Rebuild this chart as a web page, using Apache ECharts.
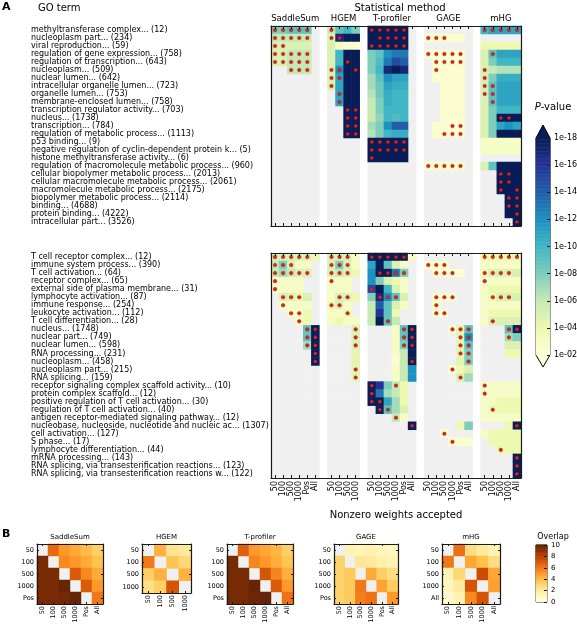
<!DOCTYPE html>
<html><head><meta charset="utf-8">
<script src="https://cdn.jsdelivr.net/npm/echarts@6/dist/echarts.min.js"></script>
<style>html,body{margin:0;padding:0;background:#fff}#c{width:577px;height:626px}</style>
</head><body><div id="c"></div><script>
const _ = null;
// ---------- DATA ----------
const methods = ['SaddleSum','HGEM','T-profiler','GAGE','mHG'];
const methodCols = [
  ['50','100','500','1000','Pos','All'],
  ['50','100','500','1000'],
  ['50','100','500','1000','Pos','All'],
  ['50','100','500','1000','Pos','All'],
  ['50','100','500','1000','All']
];
const termsTop = [
  'methyltransferase complex... (12)','nucleoplasm part... (234)','viral reproduction... (59)',
  'regulation of gene expression... (758)','regulation of transcription... (643)','nucleoplasm... (509)',
  'nuclear lumen... (642)','intracellular organelle lumen... (723)','organelle lumen... (753)',
  'membrane-enclosed lumen... (758)','transcription regulator activity... (703)','nucleus... (1738)',
  'transcription... (784)','regulation of metabolic process... (1113)','p53 binding... (9)',
  'negative regulation of cyclin-dependent protein k... (5)','histone methyltransferase activity... (6)',
  'regulation of macromolecule metabolic process... (960)','cellular biopolymer metabolic process... (2013)',
  'cellular macromolecule metabolic process... (2061)','macromolecule metabolic process... (2175)',
  'biopolymer metabolic process... (2114)','binding... (4688)','protein binding... (4222)','intracellular part... (3526)'
];
const termsBottom = [
  'T cell receptor complex... (12)','immune system process... (390)','T cell activation... (64)',
  'receptor complex... (65)','external side of plasma membrane... (31)','lymphocyte activation... (87)',
  'immune response... (254)','leukocyte activation... (112)','T cell differentiation... (28)',
  'nucleus... (1748)','nuclear part... (749)','nuclear lumen... (598)','RNA processing... (231)',
  'nucleoplasm... (458)','nucleoplasm part... (215)','RNA splicing... (159)',
  'receptor signaling complex scaffold activity... (10)','protein complex scaffold... (12)',
  'positive regulation of T cell activation... (30)','regulation of T cell activation... (40)',
  'antigen receptor-mediated signaling pathway... (12)',
  'nucleobase, nucleoside, nucleotide and nucleic ac... (1307)','cell activation... (127)',
  'S phase... (17)','lymphocyte differentiation... (44)','mRNA processing... (143)',
  'RNA splicing, via transesterification reactions... (123)',
  'RNA splicing, via transesterification reactions w... (122)'
];
// values: -log10(P); empty row / null = not reported (grey)
const saddleTop = [[8,8,9,9,9],[6,6,6,6,6],[5,5,5,5,5],[5,5,6,6,6],[5,5,6,6,6],[_,_,6,6,6]];
const hgemTop = [[6,9,10,8],[5,17,18,18],[5,3,2.5,2.5],[5,10,18,18],[5,10,18,18],[5,12,18,18],[5,11,18,18],
  [5,11,18,18],[_,11,18,18],[_,11,18,18],[_,_,18,18],[_,_,18,18],[_,_,18,18],[_,_,18,18]];
const tprofTop = [[18,18,18,18,18],[18,18,18,18,18],[18,18,18,18,18],[8,9,12,13,13],[8,9.5,13,15,14],
  [8,10,17,18,17],[7,9,12,11,11],[7,8.5,11,10.5,10.5],[6.5,8.5,10.5,10,10],[6,8,10.5,10,10],[6,8,10,10,10],
  [6,7.5,10,9.5,10],[7,8,12,14,14],[6.5,8,10,10.5,10.5],[18,18,18,18,18],[18,18,18,18,18],[18,18,18,18,18]];
const gageTop = [[],[2.5,2.5,2.5,2.5,2.5],[],[2.5,2.5,2.5,2.5,2.5],[_,2.5,2.5,2.5,2.5],[_,2.5,2.5,2.5,2.5],
  [_,2.3,2.5,2.5,2.5],[_,_,2.5,2.5,2.5],[_,_,2.5,2.5,2.5],[_,_,2.5,2.5,2.5],[_,_,2.5,2.5,2.5],[_,_,2.5,2.5,2.5],
  [_,2.5,2.5,2.5,2.5],[_,2.5,2.5,2.5,2.5],[],[],[],[2.5,2.5,2.5,2.5,2.5]];
const mhgTop = [[10,11,11,11,11],[],[4,4,4,4,4],[5,9,11,11,11],[5,8,10,10,10],[5,6,6.5,6.5,6.5],
  [5,8,10.5,10.5,10.5],[5,9,11,11,11],[5,9,11,11,11],[5,9,11,11,11],[5,8,10,10,10],[5,8,18,18,18],
  [5,8,11,12,11],[5,8,18,18,18],[3,3,3,3,3],[3,3,3,3,3],[],[5,9,18,18,18],[_,_,18,18,18],[_,_,18,18,18],
  [_,_,18,18,18],[_,_,_,18,18],[_,_,_,18,18],[_,_,_,18,18],[_,_,_,_,18]];
// significant cells (red dots): per row, column indices inside the method
const saddleTopDots = [[0,1,2,3,4],[0,1,2,3,4],[0,1],[0,1,2,3,4],[0,1,2,3,4],[2,3,4]];
const hgemTopDots = [[0],[0,1],[],[],[2],[0,1,3],[0,1],[0],[1],[1],[2,3],[2,3],[2,3],[2,3]];
const tprofTopDots = [[0,1,2,3,4],[1,2,3,4],[0,1,2,3,4],[],[],[],[],[],[],[],[],[],[],[],[0,1,2,3,4],[0,1,2,3,4],[0]];
const gageTopDots = [[],[0,1,2],[],[0,1,2,3,4],[1,2,3,4],[1],[],[],[],[],[],[],[3,4],[2,3,4],[],[],[],[0,1,2,3,4]];
const mhgTopDots = [[0,1,2,3,4],[],[],[1],[],[0],[0],[0,1],[0,1],[1],[],[2,3],[],[],[],[],[],[],[2,3],[2,3],[2,4],[3,4],[3,4],[4],[4]];

const saddleBot = [[5,5,5,5,5,4],[6,8,5,3,3],[6,7,6,5,5],[3,3,3,3],[3,3,3,3],[_,5,5,4,5],[_,3,3,3,3],
  [_,_,3,3,4],[_,_,_,3,4],[_,_,_,_,9,18],[_,_,_,_,9,18],[_,_,_,_,7,18],[_,_,_,_,_,18],[_,_,_,_,_,18]];
const hgemBot = [[5,5,5,3],[5,8,5,3],[5,6,5,4],[3,3,3],[3,3,3],[3,5,5,4],[4,5,3],[3,3,4],[3,4,3,3],
  [_,_,_,5],[_,_,_,5],[_,_,_,5],[_,_,_,4.5],[_,_,_,4.5],[_,_,_,4.5],[_,_,_,4.5]];
const tprofBot = [[18,18,18,18,18,3],[11,18,9,5,3],[12,18,18,13,8],[12,8,5,4,3],[15,18,10,5,3],[8,17,12,9,5],
  [6,14,9,5,3],[6,16,9,4],[6,18,9,6],[_,_,_,3,9,18],[_,_,_,3,9,18],[_,_,_,3,8,18],[_,_,_,3,6,18],
  [_,_,_,2.5,6,18],[_,_,_,3,6,12],[_,_,_,3,6,12],[18,16,8,6,4],[18,13,7,6,4],[18,18,11,7,4],[_,18,9,7,5],
  [_,_,_,6,3],[_,_,_,_,_,18]];
const gageBot = [[],[2.5,2.5,2.5],[_,2.5,2.5,2.5,2.3],[],[],[_,2.5,2.5,2.5],[_,2.5],[_,2.5,2.5],[],
  [_,_,_,2.5,4.5,9],[_,_,_,_,4.5,12],[_,_,_,_,4.5,9],[_,_,_,_,4.5,8],[_,_,_,_,4.5,8],[_,_,_,2.5,4,5],
  [_,_,_,_,5,7],[],[],[],[],[],[_,_,_,_,4,8],[_,_,2.5],[_,_,_,2.5,2.5,2.5]];
const mhgBot = [[4,4,4,4,4],[3,3,3,3,3],[4,5,5,5,5],[3,3,3,3,3],[3,4,4,4,4],[3,4,5,5,5],[3,3,3,3,3],
  [3,4,4,4,4],[3,5,5,5,5],[_,_,_,9,18],[_,_,_,7,8],[_,_,_,5,5],[_,_,_,4,4],[],[],[],[3,3,3,3,3],[3,3,3,3,3],
  [3,3,4,4,4],[3,4,4,4,4],[3,3,3,3,3],[_,_,_,4,18],[3,4,4,4,4],[_,4,4,4,4],[_,_,4,4,4],[_,_,_,_,18],
  [_,_,_,_,18],[_,_,_,_,18]];
const saddleBotDots = [[0,1,2,3,4],[0,1,2],[0,1,2,3,4],[0],[0],[1,2,3],[1],[2,3],[3],[4,5],[4,5],[4,5],[5],[5]];
const hgemBotDots = [[0,1,2],[0,1,2],[0,1,2],[0],[],[1,2],[0,1],[2],[],[3],[3],[3],[],[],[3],[3]];
const tprofBotDots = [[0,1,2,3,4],[],[1,2,3,4],[],[0],[1,2,3],[],[],[2],[4,5],[4,5],[4,5],[],[5],[],[],
  [0,3],[0],[0,1],[1,2],[3],[5]];
const gageBotDots = [[],[0,1,2],[1,2,3],[],[],[1,2,3],[1],[1,2],[],[3,4,5],[4,5],[4,5],[4,5],[5],[3],[4],
  [],[],[],[],[],[],[2],[3]];
const mhgBotDots = [[0,1,2,3,4],[],[0,1,2,3],[0],[],[1,2,3],[],[],[1],[3,4],[3],[],[],[],[],[],[0],[0],[],[1],[],
  [4],[],[],[2],[4],[4],[4]];

// Panel B: overlap matrices
const overlapSaddle = [[_,6.5,5,4.5,4,3.3],[9.5,_,5.5,5,4.5,3.8],[9.5,9.5,_,7,5.5,4.5],[9.5,9.5,10,_,7,5],[9.5,9.5,9.7,10,_,6]];
const overlapHgem = [[_,4.3,2.5,2.2],[6,_,3.7,3],[3.3,4.3,_,4.3],[2.7,3.3,7.2,_]];
const overlapTprof = [[_,6.8,5,4.6,4.2,3.3],[9.6,_,5.6,5,4.4,3.7],[9.6,9.6,_,7.2,5.6,4.4],[9.6,9.6,10,_,7,5],[9.6,9.6,9.8,10,_,6.2]];
const overlapGage = [[_,1.5,1.4,1.6,1.3,1.1],[3.2,_,2.3,2.1,1.7,1.5],[3.2,3.5,_,4.5,3.3,2.8],[3.2,3.5,6,_,4.7,3.4],[3.2,3.5,5.8,6.2,_,5]];
const overlapMhg = [[_,6.3,2.8,2.2,1.5],[6,_,4.6,3.8,2.8],[1.5,3,_,7.5,4.6],[1.2,2,7.2,_,4.8],[0.8,1.5,5.5,7.2,_]];
const bRowsA = ['50','100','500','1000','Pos'];
const bColsA = ['50','100','500','1000','Pos','All'];
const bH = ['50','100','500','1000'];
const bM = ['50','100','500','1000','All'];
const pTicks = [2,4,6,8,10,12,14,16,18];

// ---------- BUILD ----------
const F = 'DejaVu Sans';
const LINE = {color:'#1a1a1a', width:1.2};
const YlGnBu = ['#ffffd9','#edf8b1','#c7e9b4','#7fcdbb','#41b6c4','#1d91c0','#225ea8','#253494','#081d58'];
const YlOrBr = ['#ffffe5','#fff7bc','#fee391','#fec44f','#fe9929','#ec7014','#cc4c02','#993404','#662506'];
const grids=[], xAxes=[], yAxes=[], series=[], graphic=[];

const colIds=[], colLabels=[], blockOffsets=[];
methods.forEach((m,i)=>{
  if(i>0){colIds.push('gap'+i); colLabels.push('');}
  blockOffsets.push(colIds.length);
  methodCols[i].forEach(c=>{colIds.push(m+'|'+c); colLabels.push(c);});
});
const NC = colIds.length;

function catAxis(gi, data, position){
  return {gridIndex:gi, type:'category', data, position, boundaryGap:true, z:10,
    axisLine:{show:true,onZero:false,lineStyle:LINE}, axisTick:{show:false},
    axisLabel:{show:false}, splitLine:{show:false}, splitArea:{show:false}};
}
const G0 = {left:271, top:26, width:250, height:200};
const G1 = {left:271, top:253, width:250, height:225};

function buildMain(layout, terms, blocks, dots, withLabels){
  const gi = grids.length; grids.push(Object.assign({outerBoundsMode:'none', containLabel:false}, layout));
  const tick = {show:true, inside:true, alignWithLabel:true, length:3, interval:(i)=>colLabels[i]!=='', lineStyle:{color:'#1a1a1a',width:1}};
  const xb = xAxes.length;
  xAxes.push(Object.assign(catAxis(gi, colIds, 'bottom'), {axisTick:tick,
    axisLabel: withLabels ? {show:true, interval:0, rotate:90, fontSize:8, fontFamily:F, color:'#000', margin:3, formatter:(v,i)=>colLabels[i]} : {show:false},
    name: withLabels ? 'Nonzero weights accepted' : '', nameLocation:'middle', nameGap:32,
    nameTextStyle:{fontSize:10, fontFamily:F, color:'#000'}}));
  xAxes.push(Object.assign(catAxis(gi, colIds, 'top'), {axisTick:tick}));
  const yl = yAxes.length;
  yAxes.push(Object.assign(catAxis(gi, terms, 'left'), {inverse:true,
    axisLabel:{show:true, interval:0, align:'left', margin:240, fontSize:8, fontFamily:F, color:'#000'}}));
  yAxes.push(Object.assign(catAxis(gi, terms, 'right'), {inverse:true}));
  const bg=[], vals=[], pts=[];
  blocks.forEach((blk,m)=>{
    const off = blockOffsets[m], nc = methodCols[m].length;
    for(let r=0;r<terms.length;r++){
      const row = blk[r] || [];
      for(let c=0;c<nc;c++){
        bg.push([off+c, r, 0]);
        if(row[c]!=null) vals.push([off+c, r, row[c]]);
      }
      ((dots[m]||[])[r]||[]).forEach(c=>pts.push([off+c, r]));
    }
  });
  series.push({type:'heatmap', xAxisIndex:xb, yAxisIndex:yl, data:bg, itemStyle:{color:'#f0f0f0'}, silent:true, z:1});
  const vi = series.length;
  series.push({type:'heatmap', xAxisIndex:xb, yAxisIndex:yl, data:vals, silent:true, z:2});
  series.push({type:'scatter', xAxisIndex:xb, yAxisIndex:yl, data:pts, symbol:'circle', symbolSize:3.6, silent:true, z:5,
    itemStyle:{color:'#d7261e', borderColor:'#9b1010', borderWidth:0.4, opacity:1}});
  return vi;
}
const v0 = buildMain(G0, termsTop, [saddleTop,hgemTop,tprofTop,gageTop,mhgTop],
  [saddleTopDots,hgemTopDots,tprofTopDots,gageTopDots,mhgTopDots], false);
const v1 = buildMain(G1, termsBottom, [saddleBot,hgemBot,tprofBot,gageBot,mhgBot],
  [saddleBotDots,hgemBotDots,tprofBotDots,gageBotDots,mhgBotDots], true);

// P-value colorbar
const CB = {left:536, top:138, width:14, height:217};
function buildColorbar(layout, lo, hi, steps, ticks, fmt, fontSize){
  const gi = grids.length; grids.push(Object.assign({outerBoundsMode:'none'}, layout));
  const xi = xAxes.length;
  xAxes.push({gridIndex:gi, type:'category', data:['cb'], show:false});
  const yi = yAxes.length;
  const cats = []; for(let k=0;k<steps;k++) cats.push(String(k));
  yAxes.push({gridIndex:gi, type:'category', data:cats, show:false, position:'left'});
  yAxes.push({gridIndex:gi, type:'value', min:lo, max:hi, interval:ticks[1]-ticks[0], position:'right', z:10,
    axisLine:{show:false}, splitLine:{show:false},
    axisTick:{show:true, inside:true, length:3, lineStyle:{color:'#1a1a1a',width:1}},
    axisLabel:{show:true, margin:4, fontSize, fontFamily:F, color:'#000', formatter:fmt}});
  const d=[]; for(let k=0;k<steps;k++) d.push([0,k, lo+(k+0.5)*(hi-lo)/steps]);
  series.push({type:'heatmap', xAxisIndex:xi, yAxisIndex:yi, data:d, silent:true});
  return series.length-1;
}
const cbP = buildColorbar(CB, pTicks[0], pTicks[pTicks.length-1], 160, pTicks,
  v=>'1e-'+String(v).padStart(2,'0'), 8);

// Panel B
const bDefs = [
  {name:'SaddleSum', rows:bRowsA, cols:bColsA, vals:overlapSaddle, box:{left:37,top:544,width:66,height:60}},
  {name:'HGEM', rows:bH, cols:bH, vals:overlapHgem, box:{left:142,top:544,width:49,height:49}},
  {name:'T-profiler', rows:bRowsA, cols:bColsA, vals:overlapTprof, box:{left:227,top:544,width:66,height:60}},
  {name:'GAGE', rows:bRowsA, cols:bColsA, vals:overlapGage, box:{left:334,top:544,width:64,height:60}},
  {name:'mHG', rows:bM, cols:bM, vals:overlapMhg, box:{left:442,top:544,width:58,height:60}}
];
const bIdx = bDefs.map(def=>{
  const gi = grids.length;
  grids.push(Object.assign({outerBoundsMode:'none', show:true, backgroundColor:'#f0f0f0', borderWidth:0}, def.box));
  const tick = {show:true, inside:true, alignWithLabel:true, length:2, lineStyle:{color:'#1a1a1a',width:1}};
  const lab = {fontSize:6.5, fontFamily:F, color:'#000'};
  const xb = xAxes.length;
  xAxes.push(Object.assign(catAxis(gi, def.cols, 'bottom'), {axisTick:tick, axisLabel:Object.assign({show:true, interval:0, rotate:90, margin:2}, lab)}));
  xAxes.push(Object.assign(catAxis(gi, def.cols, 'top'), {axisTick:tick}));
  const yl = yAxes.length;
  yAxes.push(Object.assign(catAxis(gi, def.rows, 'left'), {inverse:true, axisTick:tick, axisLabel:Object.assign({show:true, interval:0, margin:3}, lab)}));
  yAxes.push(Object.assign(catAxis(gi, def.rows, 'right'), {inverse:true, axisTick:tick}));
  const data=[];
  def.vals.forEach((row,r)=>row.forEach((v,c)=>{ if(v!=null) data.push([c,r,v]); }));
  series.push({type:'heatmap', xAxisIndex:xb, yAxisIndex:yl, data, silent:true});
  graphic.push({type:'text', x:def.box.left+def.box.width/2, y:537, silent:true,
    style:{text:def.name, fill:'#000', fontSize:7, fontFamily:F, align:'center', verticalAlign:'middle'}});
  return series.length-1;
});
const CB2 = {left:536, top:545, width:11, height:57};
const cbO = buildColorbar(CB2, 0, 10, 100, [0,2,4,6,8,10], v=>String(v), 7);

// decorations
const T = (text, x, y, o) => graphic.push({type:'text', x, y, silent:true,
  style:Object.assign({text, fill:'#000', fontSize:10, fontFamily:F, align:'left', verticalAlign:'middle'}, o||{})});
T('A', 2, 7, {fontWeight:'bold', fontSize:11});
T('GO term', 38, 8);
T('Statistical method', 400, 8, {align:'center'});
methods.forEach((m,i)=>{
  const mid = blockOffsets[i] + (methodCols[i].length-1)/2;
  T(m, G0.left + (mid+0.5)*G0.width/NC, 19, {align:'center', fontSize:8.5});
});
graphic.push({type:'text', x:553, y:107, silent:true, style:{text:'{i|P}-value', fill:'#000', fontSize:10, fontFamily:F,
  align:'center', verticalAlign:'middle', rich:{i:{fontStyle:'italic', fontSize:10, fontFamily:F}}}});
T('B', 2, 534, {fontWeight:'bold', fontSize:11});
T('Overlap', 553, 537, {align:'center', fontSize:8});
// colorbar extensions and outlines
const cx = CB.left + CB.width/2, cl = CB.left, cr = CB.left+CB.width, ct = CB.top, cbm = CB.top+CB.height;
graphic.push({type:'polygon', silent:true, shape:{points:[[cl,ct],[cr,ct],[cx,ct-13]]}, style:{fill:YlGnBu[8]}});
graphic.push({type:'polygon', silent:true, shape:{points:[[cl,cbm],[cr,cbm],[cx,cbm+12]]}, style:{fill:YlGnBu[0]}});
graphic.push({type:'polygon', silent:true, shape:{points:[[cx,ct-13],[cr,ct],[cr,cbm],[cx,cbm+12],[cl,cbm],[cl,ct]]},
  style:{fill:'none', stroke:'#000', lineWidth:1}});
graphic.push({type:'rect', silent:true, shape:{x:CB2.left, y:CB2.top, width:CB2.width, height:CB2.height},
  style:{fill:'none', stroke:'#000', lineWidth:1}});

const chart = echarts.init(document.getElementById('c'), null, {renderer:'canvas', width:577, height:626});
chart.setOption({
  animation:false,
  backgroundColor:'#fff',
  textStyle:{fontFamily:F},
  grid:grids, xAxis:xAxes, yAxis:yAxes,
  visualMap:[
    {type:'continuous', show:false, min:2, max:18, dimension:2, seriesIndex:[v0, v1, cbP], inRange:{color:YlGnBu}},
    {type:'continuous', show:false, min:0, max:10, dimension:2, seriesIndex:bIdx.concat([cbO]), inRange:{color:YlOrBr}}
  ],
  series, graphic
});
</script></body></html>
